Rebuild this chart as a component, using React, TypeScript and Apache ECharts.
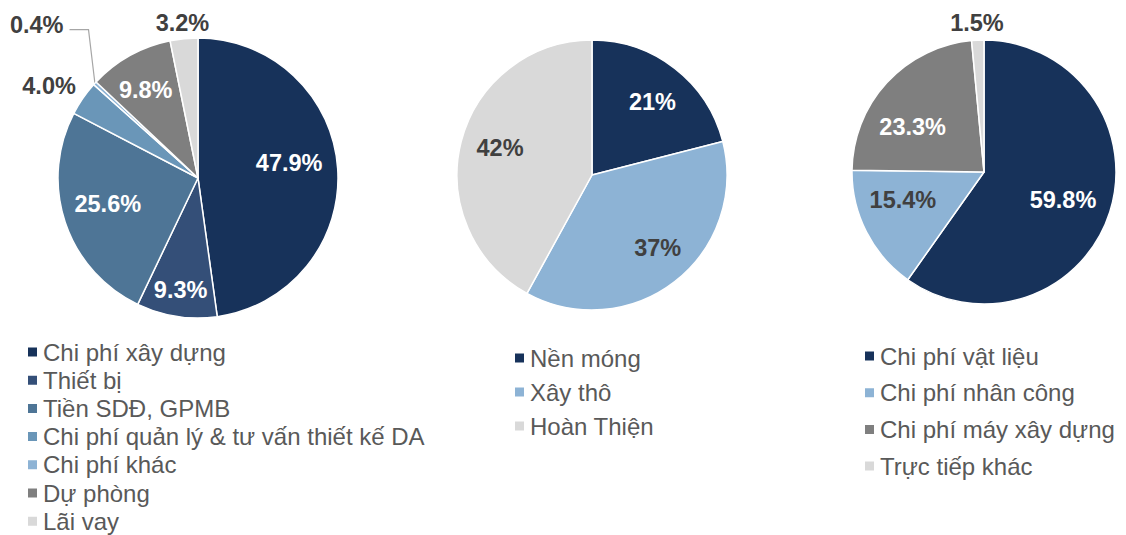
import React, { useEffect, useRef } from "react";
import * as echarts from "echarts";

// ---- Data ----
const investCategories = [
  "Chi phí xây dựng",
  "Thiết bị",
  "Tiền SDĐ, GPMB",
  "Chi phí quản lý & tư vấn thiết kế DA",
  "Chi phí khác",
  "Dự phòng",
  "Lãi vay",
];
const investValues = [47.9, 9.3, 25.6, 4.0, 0.4, 9.8, 3.2];

const phaseCategories = ["Nền móng", "Xây thô", "Hoàn Thiện"];
const phaseValues = [21, 37, 42];

const directCategories = [
  "Chi phí vật liệu",
  "Chi phí nhân công",
  "Chi phí máy xây dựng",
  "Trực tiếp khác",
];
const directValues = [59.8, 15.4, 23.3, 1.5];

// ---- Styles ----
const investColors = ["#17325A", "#344F78", "#4E7596", "#6A96B8", "#8DB3D5", "#7F7F7F", "#D9D9D9"];
const investLabelColors = ["#fff", "#fff", "#fff", "#404040", "#404040", "#fff", "#404040"];
const phaseColors = ["#17325A", "#8DB3D5", "#D9D9D9"];
const phaseLabelColors = ["#fff", "#404040", "#404040"];
const directColors = ["#17325A", "#8DB3D5", "#7F7F7F", "#D9D9D9"];
const directLabelColors = ["#fff", "#404040", "#fff", "#404040"];

// label placement: radial factor f (of radius) and angle nudge da (deg)
const investLabelPos = [
  { f: 0.66, da: -5.6 },
  { f: 0.81, da: 0 },
  { f: 0.67, da: 2.6 },
  { f: 1.25, da: -3 },
  { f: 1.59, da: 1, line: true },
  { f: 0.73, da: -1.7 },
  { f: 1.11, da: 0 },
];
const phaseLabelPos = [
  { f: 0.7, da: 2 },
  { f: 0.73, da: -4 },
  { f: 0.71, da: 2 },
];
const directLabelPos = [
  { f: 0.635, da: 1.9 },
  { f: 0.65, da: 7.9 },
  { f: 0.64, da: -10.3 },
  { f: 1.13, da: 0 },
];

const FONT = '"Liberation Sans", Arial, sans-serif';

function makeLabelLayout(values: number[], center: number[], radius: number, pos: any[]) {
  const sum = values.reduce((a, b) => a + b, 0);
  const mids: number[] = [];
  let cum = 0;
  values.forEach((v) => {
    mids.push(((cum + v / 2) / sum) * 360);
    cum += v;
  });
  return (params: any) => {
    const i = params.dataIndex;
    const p = pos[i];
    const a = ((mids[i] + p.da) * Math.PI) / 180;
    const d = p.f * radius;
    const x = center[0] + d * Math.sin(a);
    const y = center[1] - d * Math.cos(a);
    const res: any = { x, y, align: "center", verticalAlign: "middle" };
    if (p.line) {
      const am = (mids[i] * Math.PI) / 180;
      const ex = center[0] + radius * Math.sin(am);
      const ey = center[1] - radius * Math.cos(am);
      const hw = params.labelRect ? params.labelRect.width / 2 : 27;
      res.labelLinePoints = [
        [x + hw + 6, y + 5],
        [x + hw + 25, y + 5],
        [ex, ey],
      ];
    }
    return res;
  };
}

function makeSeries(
  names: string[],
  values: number[],
  colors: string[],
  labelColors: string[],
  center: number[],
  radius: number,
  pos: any[],
  decimals: number
) {
  return {
    type: "pie",
    center,
    radius: [0, radius],
    startAngle: 90,
    clockwise: true,
    avoidLabelOverlap: false,
    emphasis: { disabled: true },
    itemStyle: { borderColor: "#ffffff", borderWidth: 1.5 },
    labelLayout: makeLabelLayout(values, center, radius, pos),
    data: names.map((n, i) => ({
      name: n,
      value: values[i],
      itemStyle: { color: colors[i] },
      label: {
        show: true,
        position: pos[i].line ? "outside" : "inside",
        color: labelColors[i],
        fontFamily: FONT,
        fontWeight: "bold",
        fontSize: 23.5,
        formatter: (p: any) => p.value.toFixed(decimals) + "%",
      },
      labelLine: pos[i].line
        ? { show: true, lineStyle: { color: "#A6A6A6", width: 1.2 } }
        : { show: false },
    })),
  };
}

function makeLegend(names: string[], left: number, top: number, gap: number) {
  return {
    orient: "vertical",
    left,
    top,
    height: 260,
    padding: 0,
    itemGap: gap,
    itemWidth: 11,
    itemHeight: 11,
    icon: "rect",
    selectedMode: false,
    data: names,
    textStyle: { color: "#595959", fontSize: 24, fontFamily: FONT },
  };
}

export default function App() {
  const ref = useRef<HTMLDivElement>(null);
  useEffect(() => {
    if (!ref.current) return;
    const chart = echarts.init(ref.current, undefined, { renderer: "svg" });
    chart.setOption({
      animation: false,
      backgroundColor: "#ffffff",
      legend: [
        makeLegend(investCategories, 26, 340, 4.2),
        makeLegend(phaseCategories, 513, 346, 10),
        makeLegend(directCategories, 863, 344, 12.7),
      ],
      series: [
        makeSeries(investCategories, investValues, investColors, investLabelColors, [198, 178], 140, investLabelPos, 1),
        makeSeries(phaseCategories, phaseValues, phaseColors, phaseLabelColors, [592, 175], 135, phaseLabelPos, 0),
        makeSeries(directCategories, directValues, directColors, directLabelColors, [984, 172], 132, directLabelPos, 1),
      ],
    });
    return () => chart.dispose();
  }, []);
  return (
    <div
      ref={ref}
      style={{ position: "fixed", left: 0, top: 0, width: 1126, height: 535 }}
    />
  );
}
